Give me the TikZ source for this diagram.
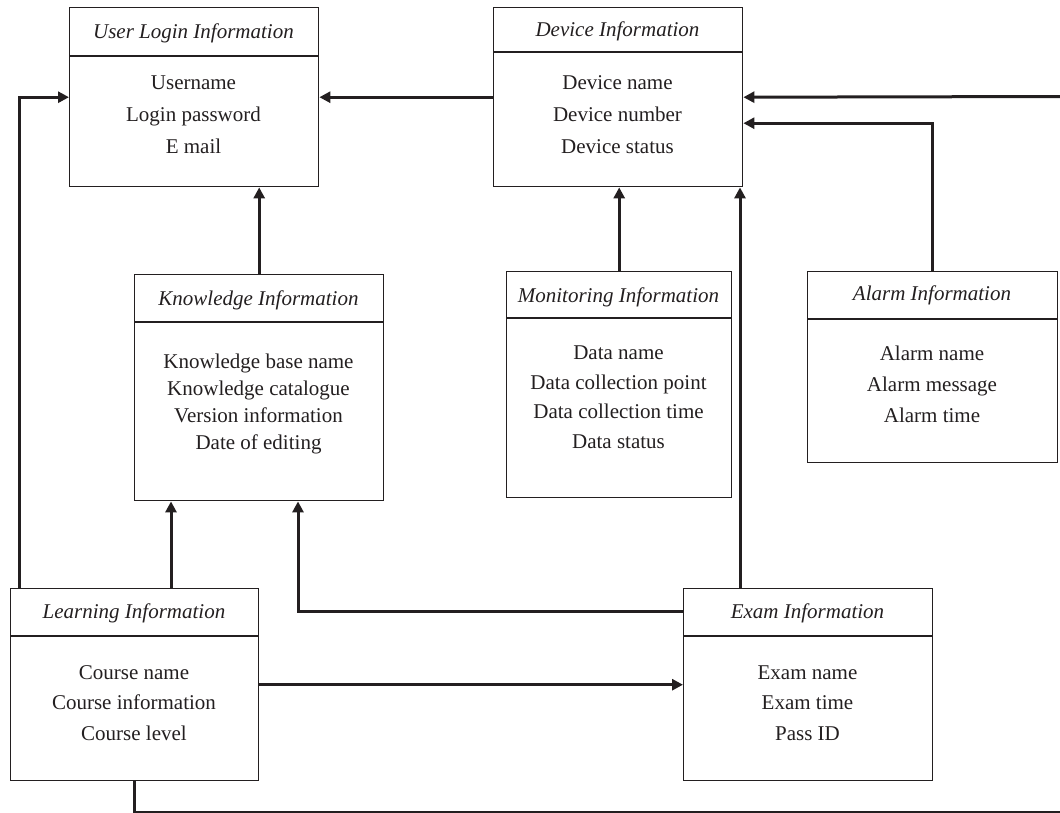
\documentclass[tikz,border=0pt]{standalone}
\usepackage{fontspec}
\setmainfont{Liberation Serif}
\usetikzlibrary{arrows.meta}
\definecolor{ink}{HTML}{231F20}
\begin{document}
\begin{tikzpicture}[x=1pt,y=-1pt,
  box/.style={draw=ink, line width=1.4pt, anchor=north west, inner sep=0pt},
  divider/.style={draw=ink, line width=1.4pt},
  ttl/.style={font=\fontsize{21}{25}\selectfont\itshape, text=ink, inner sep=0pt},
  body/.style={font=\fontsize{21}{#1}\selectfont, text=ink, align=center, inner sep=0pt},
  link/.style={draw=ink, line width=3pt, -{Triangle[length=11pt,width=11pt]}},
  plain/.style={draw=ink, line width=3pt}]
\useasboundingbox (0,0) rectangle (1060,812);

% boxes
\node[box, minimum width=249pt, minimum height=179pt] (ul) at (69,7) {};
\node[box, minimum width=249pt, minimum height=179pt] (dev) at (493,7) {};
\node[box, minimum width=249pt, minimum height=226pt] (know) at (134,274) {};
\node[box, minimum width=225pt, minimum height=226pt] (mon) at (506,271) {};
\node[box, minimum width=250pt, minimum height=191pt] (alarm) at (807,271) {};
\node[box, minimum width=248pt, minimum height=192pt] (learn) at (10,588) {};
\node[box, minimum width=249pt, minimum height=192pt] (exam) at (683,588) {};

% dividers
\draw[divider] (ul.west |- 0,56) -- (ul.east |- 0,56);
\draw[divider] (dev.west |- 0,52) -- (dev.east |- 0,52);
\draw[divider] (know.west |- 0,322) -- (know.east |- 0,322);
\draw[divider] (mon.west |- 0,318) -- (mon.east |- 0,318);
\draw[divider] (alarm.west |- 0,319) -- (alarm.east |- 0,319);
\draw[divider] (learn.west |- 0,636) -- (learn.east |- 0,636);
\draw[divider] (exam.west |- 0,636) -- (exam.east |- 0,636);

% titles
\node[ttl] (ult) at (193.5,33) {User Login Information};
\node[ttl] (devt) at (617.5,31) {Device Information};
\node[ttl] (knowt) at (258.5,300) {Knowledge Information};
\node[ttl] (mont) at (618.5,297) {Monitoring Information};
\node[ttl] (alarmt) at (932,295) {Alarm Information};
\node[ttl] (learnt) at (134,613) {Learning Information};
\node[ttl] (examt) at (807.5,613) {Exam Information};

% bodies
\node[body=32pt] (ulb) at (193.5,115) {Username\\Login password\\E mail};
\node[body=32pt] (devb) at (617.5,115) {Device name\\Device number\\Device status};
\node[body=27.3pt] (knowb) at (258.5,404) {Knowledge base name\\Knowledge catalogue\\Version information\\Date of editing};
\node[body=29.5pt] (monb) at (618.5,397) {Data name\\Data collection point\\Data collection time\\Data status};
\node[body=31pt] (alarmb) at (932,384) {Alarm name\\Alarm message\\Alarm time};
\node[body=30.5pt] (learnb) at (134,703) {Course name\\Course information\\Course level};
\node[body=30.5pt] (examb) at (807.5,703) {Exam name\\Exam time\\Pass ID};

% helper coordinates on box edges
\coordinate (lt1) at ([xshift=9pt]learn.north west);
\coordinate (lt2) at ([xshift=161pt]learn.north west);
\coordinate (lb) at ([xshift=124pt]learn.south west);
\coordinate (et) at ([xshift=57pt]exam.north west);
\coordinate (el) at ([yshift=-23pt]exam.north west);
\coordinate (ks) at ([xshift=164pt]know.south west);
\coordinate (de2) at ([yshift=-26pt]dev.east);
\coordinate (rin) at (1064,96.5);
\coordinate (rb) at (1064,812.6);

% connectors
\draw[link] (lt1) |- (ul.west);
\draw[link] (dev.west) -- (ul.east);
\draw[link] (know.north) -- (know.north |- ul.south);
\draw[link] (mon.north) -- (mon.north |- dev.south);
\draw[link] (et) -- (et |- dev.south);
\draw[link] (alarm.north) |- (de2);
\draw[link] (rin) -- (dev.east);
\draw[link] (lt2) -- (lt2 |- know.south);
\draw[link] (el) -| (ks);
\draw[link] (learn.east) -- (exam.west);
\draw[plain] (lb) |- (rb);
\end{tikzpicture}
\end{document}
